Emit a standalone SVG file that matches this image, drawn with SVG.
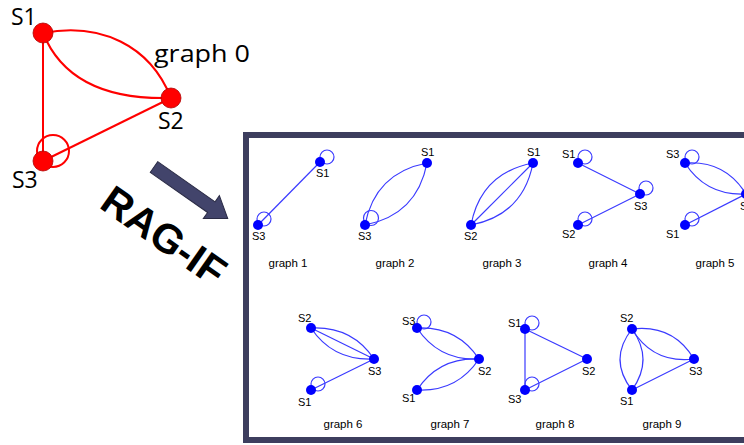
<svg xmlns="http://www.w3.org/2000/svg" width="744" height="445" viewBox="0 0 744 445">
<style>
.re{fill:none;stroke:#ff0000;stroke-width:2}
.rn{fill:#ff0000;stroke:#b00000;stroke-width:0.8}
.rl{font-family:"Open Sans","Noto Sans",sans-serif;font-size:23px;fill:#000}
.be{fill:none;stroke:#3a3aff;stroke-width:1.2}
.bn{fill:#0000ff}
.bl{font-family:"Liberation Sans",Arial,sans-serif;font-size:11px;fill:#000}
.gl{font-family:"Liberation Sans",Arial,sans-serif;font-size:11.5px;fill:#000;text-anchor:middle}
</style>
<rect width="744" height="445" fill="#fff"/>
<!-- graph 0 -->
<g id="graph0">
<g id="g0-edges">
<path class="re" d="M43,33 C100,22 150,45 171,98"/>
<path class="re" d="M43,33 C60,75 100,100 171,98"/>
<line class="re" x1="43" y1="33" x2="43" y2="161"/>
<line class="re" x1="43" y1="161" x2="171" y2="98"/>
<circle class="re" cx="53" cy="151" r="16"/>
</g>
<g id="g0-S1"><circle class="rn" cx="43" cy="33" r="10"/><text class="rl" x="11" y="25">S1</text></g>
<g id="g0-S2"><circle class="rn" cx="171" cy="98" r="10"/><text class="rl" x="158" y="129">S2</text></g>
<g id="g0-S3"><circle class="rn" cx="43" cy="161" r="10"/><text class="rl" x="12" y="188">S3</text></g>
<text class="rl" x="154" y="62" font-size="27" textLength="96" lengthAdjust="spacingAndGlyphs">graph 0</text>
</g>
<!-- arrow + label -->
<g id="rag-if">
<polygon points="0,-6.5 70,-6.5 70,-14 90,0 70,14 70,6.5 0,6.5" fill="#42446b" stroke="#2a2b45" stroke-width="1" transform="translate(154,167) rotate(35)"/>
<text x="98" y="207" transform="rotate(35 98 207)" font-family="Liberation Sans,Arial,sans-serif" font-weight="bold" font-size="41" fill="#000">RAG-IF</text>
</g>
<!-- panel -->
<rect id="panel" x="246" y="135" width="520" height="305" fill="none" stroke="#3d3e5e" stroke-width="6"/>
<!-- graph 1 -->
<g id="graph1">
<line class="be" x1="320" y1="162" x2="258" y2="225"/>
<circle class="be" cx="327" cy="157" r="7"/>
<circle class="be" cx="264" cy="219" r="7"/>
<circle class="bn" cx="320" cy="162" r="5"/><circle class="bn" cx="258" cy="225" r="5"/>
<text class="bl" x="316" y="177">S1</text><text class="bl" x="252" y="240">S3</text>
<text class="gl" x="288" y="267">graph 1</text>
</g>
<!-- graph 2 -->
<g id="graph2">
<path class="be" d="M365,225 Q375,173 427,163"/>
<path class="be" d="M365,225 Q417,215 427,163"/>
<circle class="be" cx="371" cy="218" r="7.5"/>
<circle class="bn" cx="427" cy="163" r="5"/><circle class="bn" cx="365" cy="225" r="5"/>
<text class="bl" x="421" y="156">S1</text><text class="bl" x="358" y="240">S3</text>
<text class="gl" x="395" y="267">graph 2</text>
</g>
<!-- graph 3 -->
<g id="graph3">
<path class="be" d="M471,225 Q481,173 533,163"/>
<path class="be" d="M471,225 Q523,215 533,163"/>
<line class="be" x1="471" y1="225" x2="533" y2="163"/>
<circle class="bn" cx="533" cy="163" r="5"/><circle class="bn" cx="471" cy="225" r="5"/>
<text class="bl" x="527" y="156">S1</text><text class="bl" x="464" y="240">S2</text>
<text class="gl" x="502" y="267">graph 3</text>
</g>
<!-- graph 4 -->
<g id="graph4">
<line class="be" x1="578" y1="163" x2="640" y2="194"/>
<line class="be" x1="578" y1="225" x2="640" y2="194"/>
<circle class="be" cx="585" cy="157" r="7"/>
<circle class="be" cx="646" cy="188" r="7"/>
<circle class="be" cx="585" cy="219" r="7"/>
<circle class="bn" cx="578" cy="163" r="5"/><circle class="bn" cx="640" cy="194" r="5"/><circle class="bn" cx="578" cy="225" r="5"/>
<text class="bl" x="562" y="158">S1</text><text class="bl" x="634" y="210">S3</text><text class="bl" x="562" y="238">S2</text>
<text class="gl" x="608" y="267">graph 4</text>
</g>
<!-- graph 5 -->
<g id="graph5">
<path class="be" d="M685,163 Q725,160 746,194"/>
<path class="be" d="M685,163 Q706,196 746,194"/>
<line class="be" x1="685" y1="225" x2="746" y2="194"/>
<circle class="be" cx="692" cy="157" r="7"/>
<circle class="be" cx="692" cy="219" r="7"/>
<circle class="bn" cx="685" cy="163" r="5"/><circle class="bn" cx="746" cy="194" r="5"/><circle class="bn" cx="685" cy="225" r="5"/>
<text class="bl" x="666" y="158">S3</text><text class="bl" x="740" y="210">S2</text><text class="bl" x="666" y="238">S1</text>
<text class="gl" x="715" y="267">graph 5</text>
</g>
<!-- graph 6 -->
<g id="graph6">
<path class="be" d="M311,328 Q352,326 374,359"/>
<path class="be" d="M311,328 Q333,361 374,359"/>
<line class="be" x1="311" y1="328" x2="374" y2="359"/>
<line class="be" x1="311" y1="390" x2="374" y2="359"/>
<circle class="be" cx="318" cy="384" r="7"/>
<circle class="bn" cx="311" cy="328" r="5"/><circle class="bn" cx="374" cy="359" r="5"/><circle class="bn" cx="311" cy="390" r="5"/>
<text class="bl" x="298" y="322">S2</text><text class="bl" x="368" y="375">S3</text><text class="bl" x="298" y="406">S1</text>
<text class="gl" x="343" y="428">graph 6</text>
</g>
<!-- graph 7 -->
<g id="graph7">
<path class="be" d="M417,328 Q457,326 479,359"/>
<path class="be" d="M417,328 Q439,361 479,359"/>
<path class="be" d="M417,390 Q457,392 479,359"/>
<path class="be" d="M417,390 Q439,357 479,359"/>
<circle class="be" cx="424" cy="322" r="7"/>
<circle class="bn" cx="417" cy="328" r="5"/><circle class="bn" cx="479" cy="359" r="5"/><circle class="bn" cx="417" cy="390" r="5"/>
<text class="bl" x="402" y="325">S3</text><text class="bl" x="478" y="375">S2</text><text class="bl" x="402" y="402">S1</text>
<text class="gl" x="450" y="428">graph 7</text>
</g>
<!-- graph 8 -->
<g id="graph8">
<line class="be" x1="525" y1="329" x2="587" y2="359"/>
<line class="be" x1="525" y1="329" x2="525" y2="390"/>
<line class="be" x1="525" y1="390" x2="587" y2="359"/>
<circle class="be" cx="532" cy="323" r="7"/>
<circle class="be" cx="532" cy="384" r="7"/>
<circle class="bn" cx="525" cy="329" r="5"/><circle class="bn" cx="587" cy="359" r="5"/><circle class="bn" cx="525" cy="390" r="5"/>
<text class="bl" x="508" y="327">S1</text><text class="bl" x="582" y="375">S2</text><text class="bl" x="508" y="403">S3</text>
<text class="gl" x="555" y="428">graph 8</text>
</g>
<!-- graph 9 -->
<g id="graph9">
<path class="be" d="M632,329 Q608,359.5 632,390"/>
<path class="be" d="M632,329 Q654,359.5 632,390"/>
<path class="be" d="M632,329 Q673,324 694,359"/>
<path class="be" d="M632,329 Q653,364 694,359"/>
<line class="be" x1="632" y1="390" x2="694" y2="359"/>
<circle class="bn" cx="632" cy="329" r="5"/><circle class="bn" cx="694" cy="359" r="5"/><circle class="bn" cx="632" cy="390" r="5"/>
<text class="bl" x="620" y="322">S2</text><text class="bl" x="689" y="375">S3</text><text class="bl" x="620" y="405">S1</text>
<text class="gl" x="662" y="428">graph 9</text>
</g>
</svg>
